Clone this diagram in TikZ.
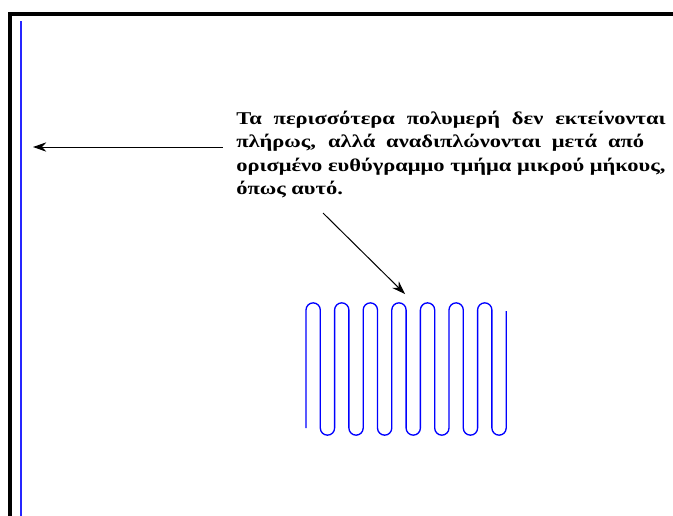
\documentclass[tikz,border=0pt]{standalone}
\usepackage{fontspec}
\setmainfont{Liberation Serif}[FakeStretch=1.25]
\usetikzlibrary{arrows.meta}

\tikzset{
  greektext/.style={anchor=base west,inner sep=0pt,font=\fontsize{13.5}{17}\selectfont\bfseries},
  pointer/.style={draw=black,line width=0.75pt,-{Stealth[length=10pt,width=7pt]}},
  meander/.style={draw=blue,line width=1pt,line join=round}
}

\begin{document}
\begin{tikzpicture}[x=0.75pt,y=0.75pt,yscale=-1,xscale=1]
%set diagram size 673 x 515
\useasboundingbox (0,0) rectangle (673,515);

%Frame
\draw[line width=3pt] (9.5,530) -- (9.5,14) -- (690,14);
%Blue chain (fully stretched)
\draw[blue!85,line width=0.9pt] (21,21) -- (21,530);

%Text lines
\node[greektext] (l1) at (236,124.3) {\makebox[322pt][s]{Τα περισσότερα πολυμερή δεν εκτείνονται}};
\node[greektext] (l2) at (236,147) {\makebox[306pt][s]{πλήρως, αλλά αναδιπλώνονται μετά από}};
\node[greektext] (l3) at (236,171.7) {ορισμένο ευθύγραμμο τμήμα μικρού μήκους,};
\node[greektext] (l4) at (236,194.3) {όπως αυτό.};

%Arrow tips
\coordinate (barTip) at (33,147);
\coordinate (foldTail) at (323,213);
\coordinate (foldTip) at (405,294);

%Folded chain
\draw[meander] (306,428) foreach \k in {1,...,7} {
  -- ++(0,-118) arc[start angle=180,end angle=360,radius=7.15]
  -- ++(0,118) arc[start angle=180,end angle=0,radius=7.15] } -- ++(0,-117);

%Arrows
\draw[pointer] ([xshift=-10]l2.west |- barTip) -- (barTip);
\draw[pointer] (foldTail) -- (foldTip);

\end{tikzpicture}
\end{document}
